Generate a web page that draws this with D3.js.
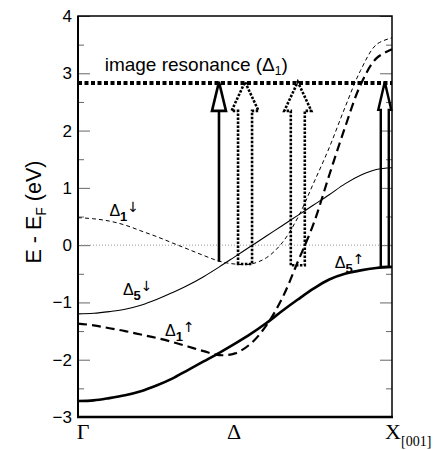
<!DOCTYPE html>
<html>
<head>
<meta charset="utf-8">
<script src="https://cdn.jsdelivr.net/npm/d3@7"></script>
<style>
  body { margin: 0; background: #fff; }
  text { font-family: "Liberation Sans", Arial, sans-serif; }
</style>
</head>
<body>
<div id="chart"></div>
<script>
// k along Gamma -> X[001], as a fraction of the path
var kPoints = [0, 0.05, 0.1, 0.15, 0.2, 0.25, 0.3, 0.35, 0.4, 0.45, 0.5,
               0.55, 0.6, 0.65, 0.7, 0.75, 0.8, 0.85, 0.9, 0.95, 1.0];

// band energies E - EF (eV)
var delta5Up   = [-2.72, -2.71, -2.67, -2.62, -2.55, -2.45, -2.33, -2.18, -2.03, -1.88, -1.72,
                  -1.55, -1.36, -1.15, -0.95, -0.76, -0.60, -0.50, -0.44, -0.40, -0.38];
var delta1Up   = [-1.37, -1.40, -1.45, -1.50, -1.56, -1.62, -1.69, -1.77, -1.85, -1.92, -1.89,
                  -1.72, -1.40, -0.93, -0.29, 0.37, 1.22, 2.05, 2.80, 3.26, 3.42];
var delta5Down = [-1.20, -1.19, -1.16, -1.12, -1.05, -0.95, -0.83, -0.70, -0.55, -0.38, -0.20,
                  -0.02, 0.16, 0.34, 0.52, 0.70, 0.88, 1.07, 1.22, 1.32, 1.35];
var delta1Down = [0.48, 0.46, 0.42, 0.35, 0.25, 0.15, 0.04, -0.07, -0.18, -0.28, -0.33,
                  -0.33, -0.22, 0.04, 0.48, 1.08, 1.70, 2.40, 3.05, 3.50, 3.62];

var imageResonance = 2.83;

// transitions: where each arrow sits and from/to energies
var arrowK    = [0.449, 0.532, 0.70, 0.977];
var arrowFrom = [-0.29, -0.33, -0.35, -0.38];
var arrowTo   = [2.85, 2.85, 2.85, 2.85];

var yMajor = [-3, -2, -1, 0, 1, 2, 3, 4];
var yMinor = [-2.5, -1.5, -0.5, 0.5, 1.5, 2.5, 3.5];

var xLabels = ["Γ", "Δ", "X"];
var xLabelK = [0, 0.5, 1];

// set the dimensions and margins of the graph
var margin = {top: 16, right: 43, bottom: 33, left: 78},
  width = 435 - margin.left - margin.right,
  height = 450 - margin.top - margin.bottom;

var svg = d3.select("#chart")
  .append("svg")
    .attr("width", 435)
    .attr("height", 450)
  .append("g")
    .attr("transform", "translate(" + margin.left + "," + margin.top + ")");

var x = d3.scaleLinear().domain([0, 1]).range([0, width]);
var y = d3.scaleLinear().domain([-3, 4]).range([height, 0]);

// ticks point inwards, left and right
function tickAxis(axis, vals, size, labels) {
  return axis.tickValues(vals).tickSize(-size).tickPadding(6)
    .tickFormat(labels ? d3.format("d") : "");
}
var gl = svg.append("g").call(tickAxis(d3.axisLeft(y), yMajor, 12, true));
svg.append("g").call(tickAxis(d3.axisLeft(y), yMinor, 6, false));
svg.append("g").attr("transform", "translate(" + width + ",0)")
  .call(tickAxis(d3.axisRight(y), yMajor, 12, false));
svg.append("g").attr("transform", "translate(" + width + ",0)")
  .call(tickAxis(d3.axisRight(y), yMinor, 6, false));
svg.selectAll(".domain").remove();
svg.selectAll(".tick line").attr("stroke", "#666").attr("stroke-width", 1);
gl.selectAll(".tick text")
  .style("font-size", "17px")
  .attr("fill", "#000");

// zero line
svg.append("line")
  .attr("x1", 0).attr("x2", width)
  .attr("y1", y(0)).attr("y2", y(0))
  .attr("stroke", "#999").attr("stroke-width", 1)
  .attr("stroke-dasharray", "1,2");

// bands
var line = d3.line()
  .x(function(d) { return x(d[0]); })
  .y(function(d) { return y(d[1]); })
  .curve(d3.curveCatmullRom.alpha(0.5));

function band(vals, w, dash) {
  svg.append("path")
    .datum(d3.zip(kPoints, vals))
    .attr("d", line)
    .attr("fill", "none")
    .attr("stroke", "#000")
    .attr("stroke-width", w)
    .attr("stroke-dasharray", dash);
}
band(delta1Down, 1, "4,3");
band(delta5Down, 1.1, null);
band(delta1Up, 2.2, "9,5");
band(delta5Up, 2.6, null);

// arrows (hollow heads); shaft/head half widths in px
var arrowShape = [
  {shaft: 0, head: 7, headH: 29, dash: null, w: 2.6},
  {shaft: 7, head: 13.5, headH: 29, dash: "2.5,1.5", w: 2.6},
  {shaft: 7, head: 13.5, headH: 29, dash: "2.5,1.5", w: 2.6},
  {shaft: 4, head: 6.5, headH: 28, dash: null, w: 2.4}
];

arrowK.forEach(function(k, i) {
  var s = arrowShape[i],
    cx = x(k), yb = y(arrowFrom[i]), yt = y(arrowTo[i]), yh = yt + s.headH;
  var p = d3.path();
  if (s.shaft === 0) {
    svg.append("line")
      .attr("x1", cx).attr("x2", cx).attr("y1", yb).attr("y2", yh)
      .attr("stroke", "#000").attr("stroke-width", s.w);
    p.moveTo(cx - s.head, yh);
    p.lineTo(cx, yt);
    p.lineTo(cx + s.head, yh);
    p.closePath();
  } else {
    p.moveTo(cx - s.shaft, yb);
    p.lineTo(cx - s.shaft, yh);
    p.lineTo(cx - s.head, yh);
    p.lineTo(cx, yt);
    p.lineTo(cx + s.head, yh);
    p.lineTo(cx + s.shaft, yh);
    p.lineTo(cx + s.shaft, yb);
    p.closePath();
  }
  svg.append("path")
    .attr("d", p.toString())
    .attr("fill", "none")
    .attr("stroke", "#000")
    .attr("stroke-width", s.w)
    .attr("stroke-linejoin", "miter")
    .attr("stroke-dasharray", s.dash);
});

// image resonance level
svg.append("line")
  .attr("x1", 0).attr("x2", width)
  .attr("y1", y(imageResonance)).attr("y2", y(imageResonance))
  .attr("stroke", "#000").attr("stroke-width", 4)
  .attr("stroke-dasharray", "4,2.5");

var res = svg.append("text")
  .attr("x", x(0.085)).attr("y", y(imageResonance) - 12)
  .style("font-size", "19px");
res.append("tspan").text("image resonance (Δ");
res.append("tspan").attr("dy", 4).style("font-size", "12px").text("1");
res.append("tspan").attr("dy", -4).text(")");

// frame
svg.append("rect")
  .attr("width", width).attr("height", height)
  .attr("fill", "none").attr("stroke", "#000").attr("stroke-width", 1.5);
svg.append("line")
  .attr("x1", -1).attr("x2", width + 1).attr("y1", height).attr("y2", height)
  .attr("stroke", "#000").attr("stroke-width", 2.4);
svg.append("line")
  .attr("x1", 0).attr("x2", 0).attr("y1", 0).attr("y2", height)
  .attr("stroke", "#000").attr("stroke-width", 2);

// band labels
var bandLabels = [
  {k: 0.10, e: 0.51, sub: "1", arrow: "↓"},
  {k: 0.143, e: -0.87, sub: "5", arrow: "↓"},
  {k: 0.277, e: -1.58, sub: "1", arrow: "↑"},
  {k: 0.818, e: -0.40, sub: "5", arrow: "↑"}
];
bandLabels.forEach(function(b) {
  var t = svg.append("text")
    .attr("x", x(b.k)).attr("y", y(b.e))
    .style("font-size", "16px");
  t.append("tspan").text("Δ");
  t.append("tspan").attr("dy", 5).style("font-size", "13px").style("font-weight", "bold").text(b.sub);
  t.append("tspan").attr("dy", -9)
    .style("font-size", "14px").style("font-family", "DejaVu Sans").text(b.arrow);
});

// x labels
xLabels.forEach(function(l, i) {
  svg.append("text")
    .attr("x", x(xLabelK[i]) + (i === 0 ? 5 : i === 2 ? 1 : -1))
    .attr("y", height + 22)
    .attr("text-anchor", "middle")
    .style("font-family", "'Liberation Serif', 'Times New Roman', serif")
    .style("font-size", "22px")
    .text(l);
});
svg.append("text")
  .attr("x", x(1) + 9).attr("y", height + 29)
  .style("font-family", "'Liberation Serif', 'Times New Roman', serif")
  .style("font-size", "14px")
  .text("[001]");

// y label
var yl = svg.append("text")
  .attr("transform", "translate(" + (41 - margin.left) + "," + (212 - margin.top) + ") rotate(-90)")
  .attr("text-anchor", "middle")
  .style("font-size", "21.5px");
yl.append("tspan").text("E - E");
yl.append("tspan").attr("dy", 5).style("font-size", "14px").text("F");
yl.append("tspan").attr("dy", -5).text(" (eV)");
</script>
</body>
</html>
